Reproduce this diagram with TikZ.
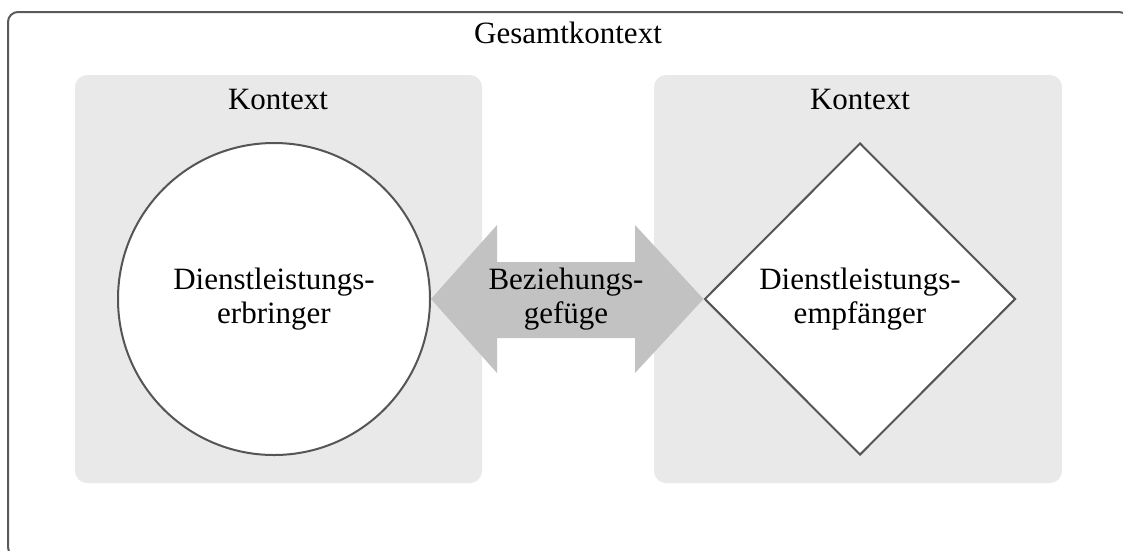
\documentclass[tikz,border=0pt]{standalone}
\usepackage{fontspec}
\setmainfont{Liberation Serif}
\usetikzlibrary{shapes.geometric,shapes.arrows}
\definecolor{framegray}{HTML}{5A5A5A}
\definecolor{ctxgray}{HTML}{E9E9E9}
\definecolor{arrowgray}{HTML}{C2C2C2}
\definecolor{shapeline}{HTML}{555555}
\tikzset{
  lbl/.style={font=\fontsize{31}{34}\selectfont, align=center, inner sep=0pt},
  ctxbox/.style={fill=ctxgray, rounded corners=12pt},
  shapeborder/.style={draw=shapeline, line width=2pt, fill=white},
}
\begin{document}
\begin{tikzpicture}[x=1pt,y=-1pt]
\useasboundingbox (0,0) rectangle (1123,550);
\begin{scope}
\clip (0,0) rectangle (1123,550);
% outer frame, running off the right and bottom edges
\draw[framegray, line width=2pt, rounded corners=10pt] (8,12) rectangle (1129,557);
\end{scope}
\node[lbl] (gesamt) at (568,33) {Gesamtkontext};

% the two context areas
\fill[ctxbox] (75,75) rectangle (482,483);
\fill[ctxbox] (654,75) rectangle (1062,483);
\node[lbl] (ctxL) at (278,99) {Kontext};
\node[lbl] (ctxR) at (860,99) {Kontext};

% provider (circle) and recipient (diamond)
\node[shapeborder, circle, minimum size=312pt, inner sep=0pt] (prov) at (274,299) {};
\node[lbl] (provtxt) at (274,299) {Dienstleistungs-\\erbringer};
\coordinate (dc) at (860,299);
\node[shapeborder, diamond, minimum width=311pt, minimum height=312pt, inner sep=0pt] (recv) at (dc) {};
\node[lbl] (recvtxt) at (860,299) {Dienstleistungs-\\empfänger};

% double arrow between them
\fill[arrowgray] (prov.east) -- (497,225) -- (497,262) -- (635,262) -- (635,225)
  -- (recv.west) -- (635,373) -- (635,338) -- (497,338) -- (497,373) -- cycle;
\node[lbl] (rel) at (566,299) {Beziehungs-\\gefüge};
\end{tikzpicture}
\end{document}
